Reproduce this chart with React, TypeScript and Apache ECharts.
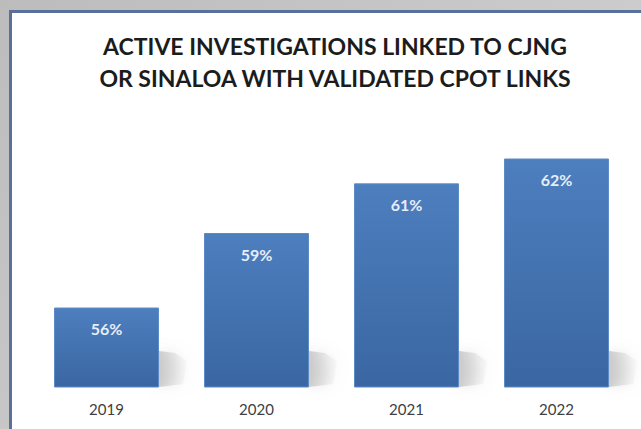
import React, { useEffect, useRef } from "react";
import * as echarts from "echarts";

const categories = ["2019", "2020", "2021", "2022"];
const values = [56, 59, 61, 62];
const valueLabels = ["56%", "59%", "61%", "62%"];
const titleLines = ["ACTIVE INVESTIGATIONS LINKED TO CJNG", "OR SINALOA WITH VALIDATED CPOT LINKS"];

const Y_MIN = 52.8;
const Y_MAX = 65;

export default function App() {
  const ref = useRef<HTMLDivElement>(null);
  useEffect(() => {
    if (!ref.current) return;
    const chart = echarts.init(ref.current, undefined, { renderer: "svg" });
    chart.setOption({
      animation: false,
      backgroundColor: "transparent",
      graphic: [
        {
          type: "rect",
          z: 0,
          silent: true,
          shape: { x: 10.5, y: 11.5, width: 640, height: 430 },
          style: {
            fill: "#ffffff",
            stroke: "#5a6f99",
            lineWidth: 3,
          },
        },
      ],
      title: {
        text: titleLines.join("\n"),
        left: 330,
        top: 25,
        textAlign: "center",
        z: 10,
        textStyle: {
          fontFamily: "Lato",
          fontWeight: "bold",
          fontSize: 23,
          lineHeight: 32,
          color: "#1c1c1c",
        },
      },
      grid: { left: 31.5, right: 9.5, top: 84, bottom: 42, containLabel: false, z: 5 },
      xAxis: {
        type: "category",
        data: categories,
        z: 5,
        axisLine: { show: false },
        axisTick: { show: false },
        axisLabel: {
          margin: 14,
          fontSize: 15,
          fontFamily: "Lato",
          color: "#404040",
        },
      },
      yAxis: {
        type: "value",
        min: Y_MIN,
        max: Y_MAX,
        show: false,
        splitLine: { show: false },
      },
      series: [
        {
          type: "custom",
          z: 4,
          silent: true,
          data: values.map((v, i) => [i, v]),
          renderItem: (params: any, api: any) => {
            const p = api.coord([api.value(0), Y_MIN]);
            const half = api.size([1, 0])[0] * 0.35;
            const xr = p[0] + half;
            const y0 = p[1];
            return {
              type: "polygon",
              shape: {
                points: [
                  [xr, y0],
                  [xr, y0 - 36],
                  [xr + 16, y0 - 34],
                  [xr + 28, y0 - 26],
                  [xr + 24, y0 - 3],
                ],
              },
              style: {
                fill: new echarts.graphic.LinearGradient(0, 0, 1, 0, [
                  { offset: 0, color: "rgba(140,140,140,0.4)" },
                  { offset: 1, color: "rgba(180,180,180,0.05)" },
                ]),
                shadowBlur: 14,
                shadowColor: "rgba(150,150,150,0.7)",
              },
            };
          },
        },
        {
          type: "bar",
          z: 6,
          barWidth: "70%",
          data: values,
          itemStyle: {
            color: new echarts.graphic.LinearGradient(0, 0, 0, 1, [
              { offset: 0, color: "#4d7ebe" },
              { offset: 1, color: "#3a67a2" },
            ]),
            borderColor: "#5d8bc6",
            borderWidth: 1,
          },
          label: {
            show: true,
            position: "insideTop",
            distance: 13,
            formatter: (p: any) => valueLabels[p.dataIndex],
            fontFamily: "Lato",
            fontWeight: "bold",
            fontSize: 16,
            color: "#e6eef9",
          },
        },
      ],
    });
    return () => chart.dispose();
  }, []);
  return (
    <div
      ref={ref}
      style={{
        position: "fixed",
        left: 0,
        top: 0,
        width: 641,
        height: 429,
        background: "linear-gradient(135deg, #bcbcbc 0%, #d6d6d6 100%)",
      }}
    />
  );
}
